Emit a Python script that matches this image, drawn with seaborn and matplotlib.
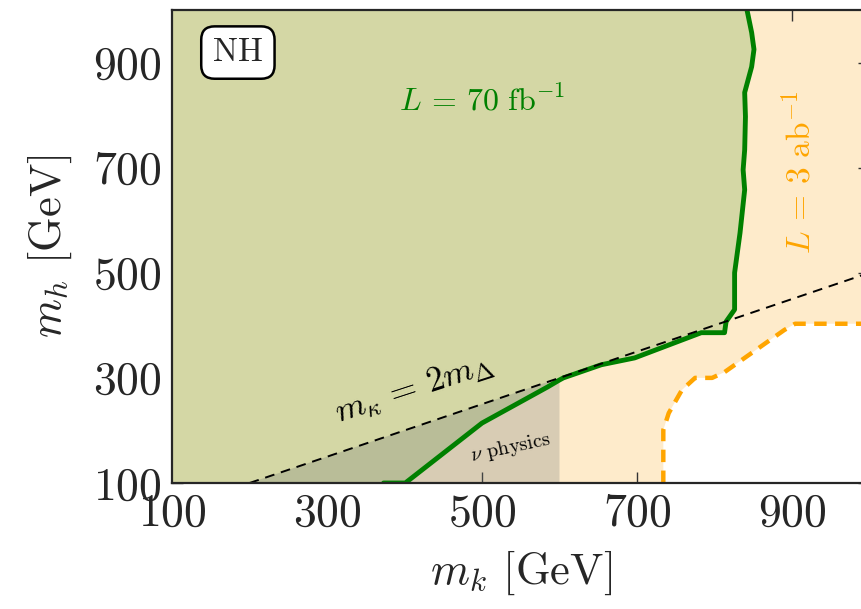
import seaborn as sns
import pandas as pd
import numpy as np
from matplotlib import pyplot as plt
from matplotlib.patches import Polygon

sns.set_theme(style="ticks")
plt.rcParams["font.family"] = "serif"
plt.rcParams["font.serif"] = ["cmr10"]
plt.rcParams["mathtext.fontset"] = "cm"
plt.rcParams["axes.formatter.use_mathtext"] = True

# L = 70 fb^-1 contour (green)
GREEN_MK = [373, 401, 500, 585, 600, 605, 654, 697, 783, 813, 815, 826, 826, 833,
            839, 837, 839, 840, 839, 848, 851, 848, 842]
GREEN_MH = [100, 100, 214, 283, 296, 300, 325, 338, 386, 386, 407, 430, 500, 576,
            658, 696, 734, 797, 843, 892, 925, 957, 1000]

# L = 3 ab^-1 contour (orange, dashed)
ORANGE_MK = [734, 734, 741, 758, 775, 797, 813, 890, 904, 1000]
ORANGE_MH = [100, 201, 233, 277, 300, 300, 311, 391, 403, 403]

# m_kappa = 2 m_Delta line and nu physics region
DIAG_MK = [200, 1000]
DIAG_MH = [100, 500]
NU_MK = [200, 600, 600]
NU_MH = [100, 300, 100]

XTICKS = [100, 300, 500, 700, 900]
YTICKS = [100, 300, 500, 700, 900]


def plot_limits(save_path=None):
    fig = plt.figure(figsize=(8.61, 6.09), dpi=100)
    ax = fig.add_axes([0.1998, 0.2069, 0.810, 0.7767])
    ax.set_xlim(100, 1000)
    ax.set_ylim(100, 1000)

    # light orange background = reach of 3 ab^-1, white hole outside it
    ax.add_patch(Polygon([[100, 100], [100, 1000], [1000, 1000], [1000, 100]],
                         closed=True, color="#feebcb", lw=0, zorder=0))
    hole = list(zip(ORANGE_MK, ORANGE_MH)) + [(1000, 100)]
    ax.add_patch(Polygon(hole, closed=True, color="white", lw=0, zorder=1))

    # green region = reach of 70 fb^-1
    green = [(100, 100)] + list(zip(GREEN_MK, GREEN_MH)) + [(100, 1000)]
    ax.add_patch(Polygon(green, closed=True, color="#d4d7a5", lw=0, zorder=2))

    # nu physics region
    ax.add_patch(Polygon(list(zip(NU_MK, NU_MH)), closed=True, color="#6e7575",
                         alpha=0.26, lw=0, zorder=3))

    sns.lineplot(x=GREEN_MK, y=GREEN_MH, sort=False, estimator=None,
                 color="green", lw=3.5, ax=ax, zorder=5)
    sns.lineplot(x=ORANGE_MK, y=ORANGE_MH, sort=False, estimator=None,
                 color="orange", lw=3.2, ax=ax, zorder=5)
    ax.lines[-1].set_dashes([2.8, 1.9])
    sns.lineplot(x=DIAG_MK, y=DIAG_MH, sort=False, estimator=None,
                 color="black", lw=1.4, ax=ax, zorder=6)
    ax.lines[-1].set_dashes([5, 3.5])

    ax.text(500, 828, r"$L\,=\,70\ \mathrm{fb}^{-1}$", color="green",
            fontsize=23, ha="center", va="center")
    ax.text(910, 690, r"$L\,=\,3\ \mathrm{ab}^{-1}$", color="orange",
            fontsize=24, ha="center", va="center", rotation=90)
    ax.text(412, 280, r"$m_\kappa\,=\,2m_\Delta$", color="black",
            fontsize=25, ha="center", va="center", rotation=18)
    ax.text(537, 167, r"$\nu$ physics", color="black",
            fontsize=14.5, ha="center", va="center", rotation=12)
    ax.text(185, 919, "NH", fontsize=24, ha="center", va="center",
            bbox=dict(boxstyle="round,pad=0.35,rounding_size=0.4",
                      fc="white", ec="black", lw=1.8), zorder=7)

    ax.set_xticks(XTICKS)
    ax.set_yticks(YTICKS)
    ax.tick_params(direction="in", length=8, width=1, labelsize=33,
                   top=True, right=True, pad=7, color="#333333")
    for s in ax.spines.values():
        s.set_linewidth(1.6)
        s.set_zorder(8)
    ax.set_xlabel(r"$m_k$ [GeV]", fontsize=32, labelpad=10)
    ax.set_ylabel(r"$m_h$ [GeV]", fontsize=32, labelpad=14)

    if save_path:
        fig.savefig(save_path, dpi=100)


if __name__ == "__main__":
    plot_limits(save_path="out.png")
